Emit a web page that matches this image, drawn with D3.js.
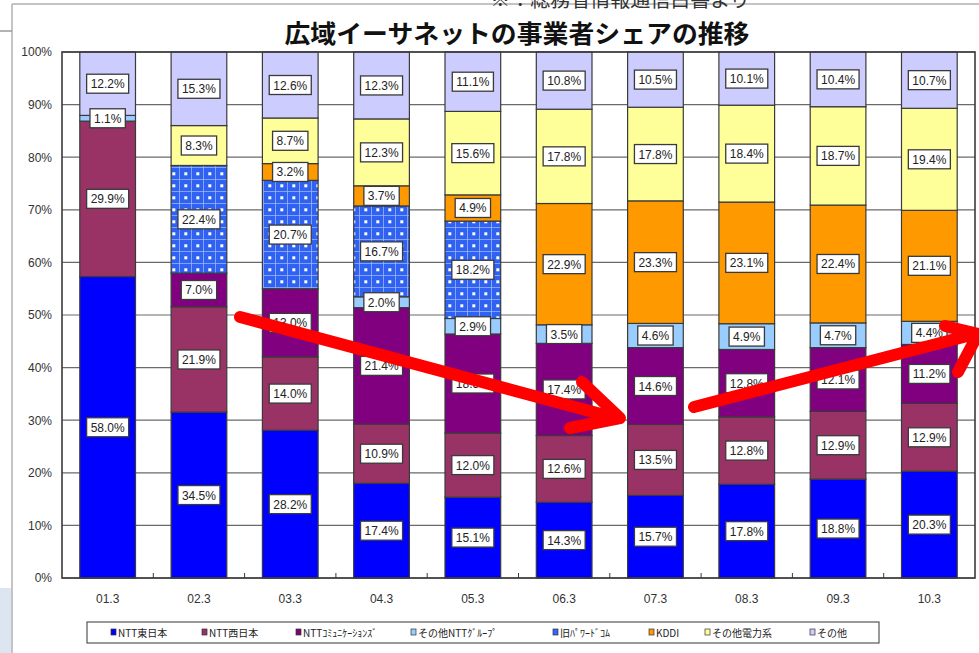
<!DOCTYPE html>
<html><head><meta charset="utf-8">
<script src="https://cdn.jsdelivr.net/npm/d3@7"></script>
<style>
body{margin:0;background:#fff;}
svg{display:block;font-family:"Noto Sans CJK JP","Noto Sans",sans-serif;}
</style></head>
<body>
<svg id="c" width="979" height="653"></svg>
<script>
const categories = ["01.3","02.3","03.3","04.3","05.3","06.3","07.3","08.3","09.3","10.3"];
const seriesNames = ["NTT東日本","NTT西日本","NTTｺﾐｭﾆｹｰｼｮﾝｽﾞ","その他NTTｸﾞﾙｰﾌﾟ","旧ﾊﾟﾜｰﾄﾞｺﾑ","KDDI","その他電力系","その他"];
const nttEast   = [58.0,34.5,28.2,17.4,15.1,14.3,15.7,17.8,18.8,20.3];
const nttWest   = [29.9,21.9,14.0,10.9,12.0,12.6,13.5,12.8,12.9,12.9];
const nttCom    = [0,   7.0, 13.0,21.4,18.5,17.4,14.6,12.8,12.1,11.2];
const nttOther  = [1.1, 0,   0,   2.0, 2.9, 3.5, 4.6, 4.9, 4.7, 4.4];
const poweredCom= [0,   22.4,20.7,16.7,18.2,0,   0,   0,   0,   0];
const kddi      = [0,   0,   3.2, 3.7, 4.9, 22.9,23.3,23.1,22.4,21.1];
const otherPower= [0,   8.3, 8.7, 12.3,15.6,17.8,17.8,18.4,18.7,19.4];
const others    = [12.2,15.3,12.6,12.3,11.1,10.8,10.5,10.1,10.4,10.7];
const yTicks = [0,0.1,0.2,0.3,0.4,0.5,0.6,0.7,0.8,0.9,1.0];
const title = "広域イーサネットの事業者シェアの推移";

const seriesValues = [nttEast,nttWest,nttCom,nttOther,poweredCom,kddi,otherPower,others];
const colors = ["#0000ff","#993366","#800080","#99ccff","url(#dots)","#ff9900","#ffff99","#ccccff"];
const legendColors = ["#0000ff","#993366","#800080","#99ccff","#3366ff","#ff9900","#ffff99","#ccccff"];

const table = categories.map((c,i)=>{
  const row = {cat:c};
  seriesNames.forEach((s,j)=>row[s]=seriesValues[j][i]);
  return row;
});

const svg = d3.select("#c");
const defs = svg.append("defs");
const pat = defs.append("pattern").attr("id","dots").attr("patternUnits","userSpaceOnUse")
  .attr("width",12).attr("height",12);
pat.append("rect").attr("width",12).attr("height",12).attr("fill","#2f62f0");
pat.append("line").attr("x1",11.5).attr("x2",11.5).attr("y1",0).attr("y2",12).attr("stroke","#9ab2ff").attr("stroke-width",0.8);
pat.append("line").attr("x1",0).attr("x2",12).attr("y1",11.5).attr("y2",11.5).attr("stroke","#9ab2ff").attr("stroke-width",0.8);
pat.append("rect").attr("x",4.3).attr("y",4.3).attr("width",3).attr("height",3).attr("fill","#ffffff");

// slide frame bits
svg.append("rect").attr("x",0).attr("y",588).attr("width",11).attr("height",65).attr("fill","#dde5f1");
svg.append("line").attr("x1",12).attr("x2",12).attr("y1",4).attr("y2",653).attr("stroke","#b0b0b0").attr("stroke-width",1.5);
svg.append("line").attr("x1",12).attr("x2",979).attr("y1",4).attr("y2",4).attr("stroke","#b0b0b0").attr("stroke-width",1.5);
svg.append("line").attr("x1",0).attr("x2",12).attr("y1",31).attr("y2",31).attr("stroke","#9a9a9a").attr("stroke-width",1.5);
svg.append("text").attr("x",620).attr("y",7).attr("text-anchor","middle").attr("font-size",20).attr("fill","#333")
  .text("※：総務省情報通信白書より");

const L=62,R=975,T=52,B=578;
const x = d3.scaleBand().domain(categories).range([L,R]).paddingInner(0.39).paddingOuter(0.195);
const y = d3.scaleLinear().domain([0,1]).range([B,T]);

// title
svg.append("text").attr("x",517).attr("y",43).attr("text-anchor","middle")
  .attr("font-size",25).attr("font-weight","bold").attr("fill","#111")
  .attr("textLength",465).attr("lengthAdjust","spacingAndGlyphs").text(title);

// grid
svg.append("g").selectAll("line").data(yTicks).join("line")
  .attr("x1",L).attr("x2",R).attr("y1",d=>y(d)).attr("y2",d=>y(d))
  .attr("stroke","#6a6a6a").attr("stroke-width",1.2);

// y axis labels
const yAxis = d3.axisLeft(y).tickValues(yTicks).tickFormat(d3.format(".0%")).tickSize(0).tickPadding(10);
const gy = svg.append("g").attr("transform",`translate(${L},0)`).call(yAxis);
gy.select(".domain").remove();
gy.selectAll("text").attr("font-size",12).attr("fill","#333").attr("font-family","Arial, 'Liberation Sans', sans-serif");

// stacked bars
const stack = d3.stack().keys(seriesNames).offset(d3.stackOffsetExpand);
const stacked = stack(table);
const gBars = svg.append("g");
stacked.forEach((layer,j)=>{
  gBars.append("g").selectAll("rect").data(layer.filter(d=>d.data[layer.key]>0)).join("rect")
    .attr("x",d=>x(d.data.cat)).attr("width",x.bandwidth())
    .attr("y",d=>y(d[1])).attr("height",d=>y(d[0])-y(d[1]))
    .attr("fill",colors[j]).attr("stroke","#3a3a3a").attr("stroke-width",1.2);
});

// plot frame
svg.append("rect").attr("x",L).attr("y",T).attr("width",R-L).attr("height",B-T)
  .attr("fill","none").attr("stroke","#3a3a3a").attr("stroke-width",1.6);

// x axis
const xAxis = d3.axisBottom(x).tickSize(0).tickPadding(16);
const gx = svg.append("g").attr("transform",`translate(0,${B})`).call(xAxis);
gx.select(".domain").remove();
gx.selectAll("text").attr("font-size",12).attr("fill","#333").attr("font-family","Arial, 'Liberation Sans', sans-serif");
// small ticks between categories
svg.append("g").selectAll("line").data(categories.slice(1)).join("line")
  .attr("x1",d=>x(d)-x.step()*x.paddingInner()/2).attr("x2",d=>x(d)-x.step()*x.paddingInner()/2)
  .attr("y1",B).attr("y2",B-5).attr("stroke","#3a3a3a");

// labels
const gLab = svg.append("g").attr("font-family","Arial, 'Liberation Sans', sans-serif");
stacked.forEach((layer,j)=>{
  layer.forEach(d=>{
    const v = d.data[layer.key];
    if(!(v>0)) return;
    const cx = x(d.data.cat)+x.bandwidth()/2;
    const cy = (y(d[0])+y(d[1]))/2;
    const txt = v.toFixed(1)+"%";
    const g = gLab.append("g");
    const t = g.append("text").attr("x",cx).attr("y",cy+0.5).attr("text-anchor","middle")
      .attr("dominant-baseline","central").attr("font-size",12).attr("fill","#222").text(txt);
    const w = t.node().getComputedTextLength()+8;
    g.insert("rect","text").attr("x",cx-w/2).attr("y",cy-9.5).attr("width",w).attr("height",19)
      .attr("fill","#fff").attr("stroke","#3a3a3a").attr("stroke-width",1.3);
  });
});

// red arrows (annotation)
const ga = svg.append("g").attr("stroke","#ff0000").attr("fill","none").attr("stroke-width",12)
  .attr("stroke-linecap","round").attr("stroke-linejoin","round");
ga.append("path").attr("d","M240,317 L612,417");
ga.append("path").attr("d","M582,382 L620,418 L570,428");
ga.append("path").attr("d","M694,407 L975,334");
ga.append("path").attr("d","M945,326 L978,334 L958,372");

// legend
const lg = svg.append("g");
lg.append("rect").attr("x",87).attr("y",622).attr("width",792).attr("height",21)
  .attr("fill","#fff").attr("stroke","#555").attr("stroke-width",1.2);
const legX = [111,202,296,411,553,649,705,810];
seriesNames.forEach((s,j)=>{
  lg.append("rect").attr("x",legX[j]).attr("y",629).attr("width",5).attr("height",6)
    .attr("fill",legendColors[j]).attr("stroke","#333").attr("stroke-width",0.7);
  lg.append("text").attr("x",legX[j]+7).attr("y",637).attr("font-size",10).attr("fill","#222").text(s);
});
</script>
</body></html>
